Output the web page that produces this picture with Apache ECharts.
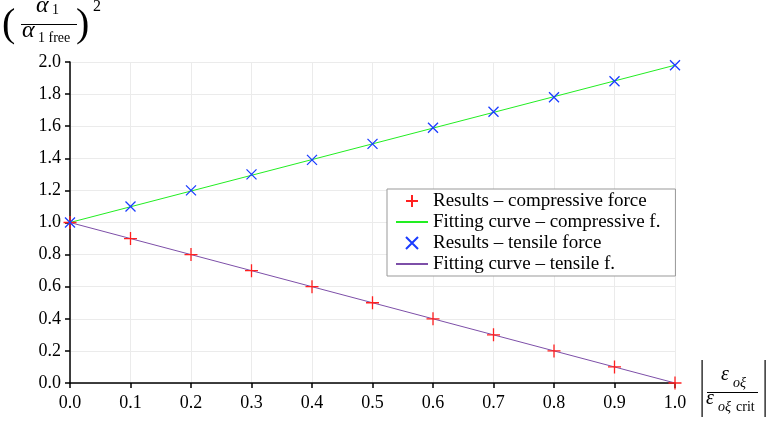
<!DOCTYPE html>
<html><head><meta charset="utf-8">
<script src="https://cdn.jsdelivr.net/npm/echarts@6/dist/echarts.min.js"></script>
<style>html,body{margin:0;padding:0;background:#fff}#c{width:767px;height:421px}</style>
</head><body><div id="c"></div>
<script>
const xs = [0.0,0.1,0.2,0.3,0.4,0.5,0.6,0.7,0.8,0.9,1.0];
const compressive = [1.0,0.9,0.8,0.7,0.6,0.5,0.4,0.3,0.2,0.1,0.0];
const tensile = [1.0,1.10,1.20,1.30,1.39,1.49,1.59,1.69,1.78,1.88,1.98];
const fitCompX = [0,1];
const fitCompY = [1.0,1.98];
const fitTensX = [0,1];
const fitTensY = [1.0,0.0];
const names = ['Results \u2013 compressive force','Fitting curve \u2013 compressive f.','Results \u2013 tensile force','Fitting curve \u2013 tensile f.'];
const FONT = 'Liberation Serif';
const pair = (a,b)=>a.map((v,i)=>[v,b[i]]);
const plus = 'path://M0,5L10,5M5,0L5,10';
const cross = 'path://M0,0L10,10M10,0L0,10';
const chart = echarts.init(document.getElementById('c'), null, {renderer:'canvas'});
const axisCommon = {
  axisLine:{show:true,lineStyle:{color:'#000',width:1.5}},
  axisTick:{show:true,inside:false,length:5,lineStyle:{color:'#000',width:1.5}},
  splitLine:{show:true,lineStyle:{color:'#ebebeb',width:1}},
  axisLabel:{color:'#000',fontFamily:FONT,fontSize:18,formatter:v=>v.toFixed(1)}
};
function T(x,y,t,size,italic,align){
  return {type:'text',x:x,y:y,style:{text:t,font:(italic?'italic ':'')+size+'px '+FONT,fill:'#000',align:align||'left',verticalAlign:'middle'}};
}
chart.setOption({
  animation:false,
  backgroundColor:'#fff',
  grid:{left:70,right:92,top:62,bottom:38},
  xAxis:Object.assign({type:'value',min:0,max:1,interval:0.1},axisCommon,{axisLabel:Object.assign({},axisCommon.axisLabel,{margin:11})}),
  yAxis:Object.assign({type:'value',min:0,max:2,interval:0.2},axisCommon,{axisLabel:Object.assign({},axisCommon.axisLabel,{margin:9})}),
  legend:{
    orient:'vertical',left:387,top:189,
    data:names.map((n,i)=>(i%2===1?{name:n,itemStyle:{opacity:0}}:{name:n})),
    backgroundColor:'#fff',borderColor:'#999',borderWidth:1,borderRadius:0,
    padding:[2,15,2,8],itemGap:1,itemWidth:32,itemHeight:12,itemTextGap:8,
    textStyle:{fontFamily:FONT,fontSize:19,lineHeight:20,color:'#000'}
  },
  series:[
    {name:names[1],type:'line',data:pair(fitCompX,fitCompY),symbol:'none',lineStyle:{color:'#22ee22',width:1},itemStyle:{color:'#22ee22'},z:2},
    {name:names[3],type:'line',data:pair(fitTensX,fitTensY),symbol:'none',lineStyle:{color:'#7d4fa8',width:1},itemStyle:{color:'#7d4fa8'},z:2},
    {name:names[0],type:'scatter',data:pair(xs,compressive),symbol:plus,symbolSize:13,itemStyle:{color:'rgba(0,0,0,0)',borderColor:'#ff2020',borderWidth:1.3,opacity:1},z:3},
    {name:names[2],type:'scatter',data:pair(xs,tensile),symbol:cross,symbolSize:10,itemStyle:{color:'rgba(0,0,0,0)',borderColor:'#1a3cff',borderWidth:1.3,opacity:1},z:3}
  ],
  graphic:[
    T(2,25,'(',40,false),
    T(36,6,'\u03b1',24,true),
    T(52,10,'1',14,false),
    {type:'rect',shape:{x:21,y:24,width:56,height:0.9},style:{fill:'#000'}},
    T(22,31,'\u03b1',24,true),
    T(38,38,'1 free',14,false),
    T(76,25,')',40,false),
    T(93,7,'2',16,false),
    {type:'rect',shape:{x:701.5,y:360,width:1.2,height:57},style:{fill:'#000'}},
    T(721,375,'\u03b5',20,true),
    T(733,383,'o\u03be',14,true),
    {type:'rect',shape:{x:707,y:392,width:51,height:0.9},style:{fill:'#000'}},
    T(706,399,'\u03b5',20,true),
    T(718,407,'o\u03be',14,true),
    T(736,407,'crit',14,false),
    {type:'rect',shape:{x:764.5,y:360,width:1.2,height:57},style:{fill:'#000'}}
  ]
});
</script></body></html>
